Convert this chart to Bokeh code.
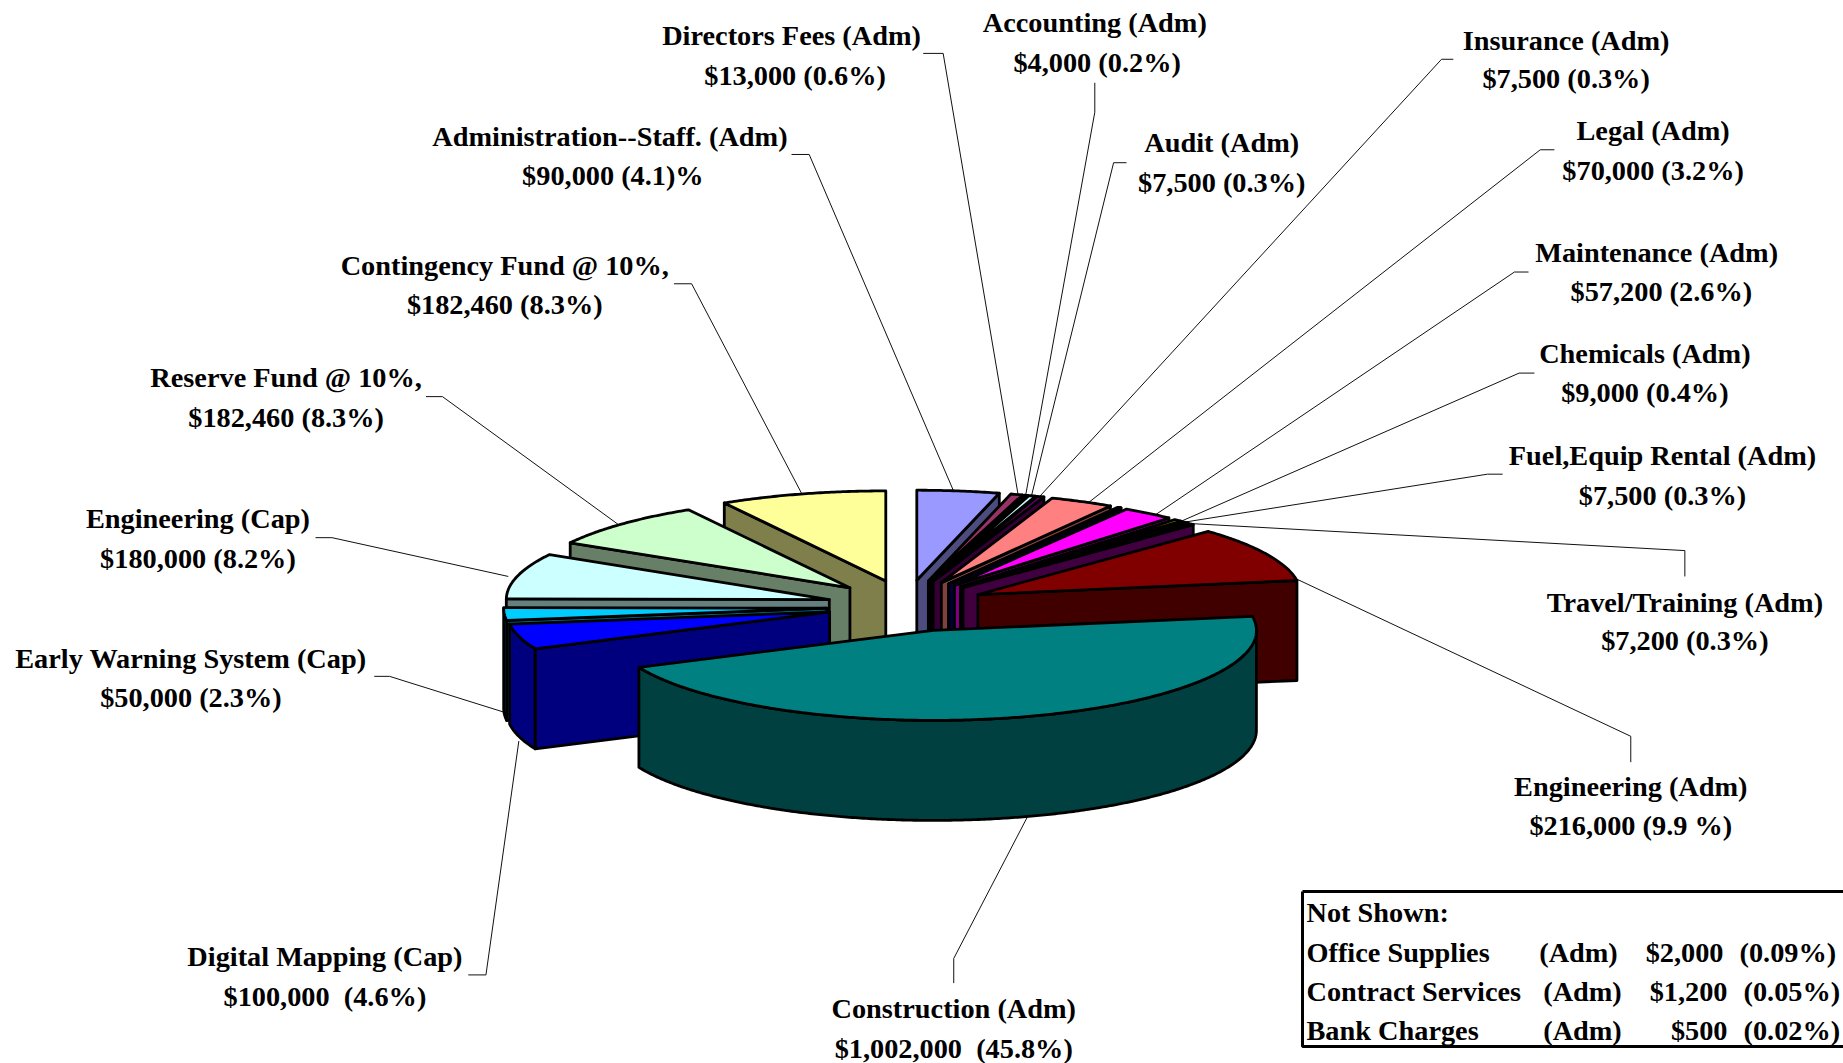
import numpy as np
from bokeh.plotting import figure
from bokeh.embed import file_html
from bokeh.resources import INLINE
from bokeh.core.properties import value

# ---- data, clockwise from twelve o'clock ----
names = ["Administration--Staff. (Adm)", "Directors Fees (Adm)", "Accounting (Adm)", "Audit (Adm)",
         "Insurance (Adm)", "Legal (Adm)", "Office Supplies (Adm)", "Contract Services (Adm)",
         "Bank Charges (Adm)", "Maintenance (Adm)", "Chemicals (Adm)", "Fuel,Equip Rental (Adm)",
         "Travel/Training (Adm)", "Engineering (Adm)", "Construction (Adm)", "Digital Mapping (Cap)",
         "Early Warning System (Cap)", "Engineering (Cap)", "Reserve Fund @ 10%,", "Contingency Fund @ 10%,"]
amounts = [90000, 13000, 4000, 7500, 7500, 70000, 2000, 1200, 500, 57200, 9000, 7500, 7200,
           216000, 1002000, 100000, 50000, 180000, 182460, 182460]
colors = ["#9999FF", "#993366", "#FFFFCC", "#CCFFFF", "#660066", "#FF8080", "#0066CC", "#CCCCFF",
          "#000080", "#FF00FF", "#FFFF00", "#00FFFF", "#800080", "#800000", "#008080", "#0000FF",
          "#00CCFF", "#CCFFFF", "#CCFFCC", "#FFFF99"]

label_line2 = ["$90,000 (4.1)%", "$13,000 (0.6%)", "$4,000 (0.2%)", "$7,500 (0.3%)", "$7,500 (0.3%)",
               "$70,000 (3.2%)", None, None, None, "$57,200 (2.6%)", "$9,000 (0.4%)", "$7,500 (0.3%)",
               "$7,200 (0.3%)", "$216,000 (9.9 %)", "$1,002,000 \u00a0(45.8%)", "$100,000 \u00a0(4.6%)",
               "$50,000 (2.3%)", "$180,000 (8.2%)", "$182,460 (8.3%)", "$182,460 (8.3%)"]

table_rows = [("Office Supplies", "(Adm)", "$2,000", "(0.09%)"),
              ("Contract Services", "(Adm)", "$1,200", "(0.05%)"),
              ("Bank Charges", "(Adm)", "$500", "(0.02%)")]

# ---- layout, in reference pixels ----
W, H = 1843, 1063
CX, CY, RX, RY, DEPTH = 906.0, 606.0, 323.0, 90.0, 100.0
EX, EY = 80.0, 26.5
NUDGE = {14: (4.0, -1.5), 15: (0.0, -2.0)}
S = 1.1754  # label positions were read on the 1568 wide view
FS = "28.3px"

label_pos = {  # name: (x line1, y line1, x line2, y line2)
    0: (518.5, 116, 521, 149), 1: (673, 30, 676, 64), 2: (931, 19, 933, 53), 3: (1039, 121, 1039, 155),
    4: (1332, 34, 1332, 67), 5: (1406, 111, 1406, 145), 9: (1409, 215, 1413, 248), 10: (1399, 301, 1399, 334),
    11: (1414, 387, 1414, 421), 12: (1433, 512, 1433, 545), 13: (1387, 669, 1387, 702),
    14: (811, 858, 811, 892), 15: (276, 814, 276, 848), 16: (162, 560, 162, 593), 17: (168, 441, 168, 475),
    18: (243, 321, 243, 355), 19: (429, 226, 429, 259),
}
leaders = {
    0: [(673, 131), (688, 131), (812, 420)], 1: [(785, 45), (802, 45), (866, 422)],
    2: [(931, 70), (931, 95), (872, 422)], 3: [(958, 138), (947, 138), (877, 422)],
    4: [(1236, 50), (1226, 50), (884, 422)], 5: [(1322, 127), (1310, 127), (922, 430)],
    9: [(1300, 231), (1288, 231), (976, 442)], 10: [(1305, 317), (1292, 317), (1000, 445)],
    11: [(1278, 403), (1265, 403), (1006, 444)], 12: [(1433, 490), (1433, 468), (1012, 445)],
    13: [(1387, 648), (1387, 626), (1098, 490)], 14: [(811, 836), (811, 815), (875, 692)],
    15: [(398, 829), (413, 829), (441, 630)], 16: [(318, 575), (331, 575), (430, 606)],
    17: [(268, 457), (282, 457), (432, 490)], 18: [(362, 337), (376, 337), (530, 449)],
    19: [(573, 241), (588, 241), (684, 424)],
}

p = figure(width=W, height=H, x_range=(0, W), y_range=(H, 0), output_backend="svg",
           toolbar_location=None, min_border=0, outline_line_color=None)
p.axis.visible = False
p.grid.visible = False
p.styles = {"position": "absolute", "left": "0px", "top": "0px"}

FONT = value("Liberation Serif")

# leader lines sit below the pie
for i, pts in leaders.items():
    p.line([a * S for a, _ in pts], [b * S for _, b in pts], line_color="#111111", line_width=1)

# ---- pie geometry from the amounts ----
total = sum(amounts)
spans = [a / total * 360 for a in amounts]
starts = 90 - np.concatenate([[0], np.cumsum(spans)[:-1]])


def darker(c):
    return "#%02X%02X%02X" % tuple(int(c[k:k + 2], 16) // 2 for k in (1, 3, 5))


def slice_faces(i):
    a0 = starts[i]
    a1 = a0 - spans[i]
    mid = np.radians((a0 + a1) / 2)
    nx, ny = NUDGE.get(i, (0.0, 0.0))
    ax, ay = CX + nx + EX * np.cos(mid), CY + ny - EY * np.sin(mid)
    t = np.radians(np.linspace(a0, a1, max(4, int(spans[i] * 2))))
    ex, ey = ax + RX * np.cos(t), ay - RY * np.sin(t)
    top = ([ax, *ex], [ay, *ey])
    faces = []
    # a cut face only shows when it turns towards the viewer
    if np.cos(np.radians(a0)) < -1e-6:
        faces.append(([ax, ex[0], ex[0], ax], [ay, ey[0], ey[0] + DEPTH, ay + DEPTH]))
    if np.cos(np.radians(a1)) > 1e-6:
        faces.append(([ax, ex[-1], ex[-1], ax], [ay, ey[-1], ey[-1] + DEPTH, ay + DEPTH]))
    # outer wall, only where the rim runs in front (lower half)
    m = np.sin(t) <= 0
    wall = None
    if m.sum() >= 2:
        wx, wy = ex[m], ey[m]
        wall = ([*wx, *wx[::-1]], [*wy, *(wy[::-1] + DEPTH)])
    return faces, wall, top


# painter's order: from the back (12 o'clock) outwards on both sides, largest slice last
n = len(amounts)
big = int(np.argmax(amounts))
order = list(range(n - 1, big, -1)) + list(range(0, big + 1))
for i in order:
    faces, wall, top = slice_faces(i)
    side = darker(colors[i])
    xs = [f[0] for f in faces]
    ys = [f[1] for f in faces]
    if wall:
        xs.append(wall[0])
        ys.append(wall[1])
    if xs:
        p.patches(xs, ys, fill_color=side, line_color="black", line_width=2.8, line_join="round")
    p.patch(top[0], top[1], fill_color=colors[i], line_color="black", line_width=2.8, line_join="round")

# ---- labels ----
tx, ty, tt = [], [], []
for i, (x1, y1, x2, y2) in label_pos.items():
    tx += [x1 * S, x2 * S]
    ty += [y1 * S - 0.3, y2 * S - 0.3]
    tt += [names[i], label_line2[i]]
p.text(tx, ty, text=tt, text_font=FONT, text_font_style="bold", text_font_size=FS,
       text_align="center", text_baseline="middle", text_color="black")

# ---- "Not shown" box ----
p.line([1302, 1860, 1860, 1302, 1302], [891, 891, 1046, 1046, 891], line_color="black", line_width=3)
row_y = [912, 952, 991, 1030]
p.text([1306], [row_y[0]], text=["Not Shown:"], text_font=FONT, text_font_style="bold", text_font_size=FS,
       text_baseline="middle")
col_adm = [1578, 1582, 1582]
col_amt = [1723, 1727, 1727]
col_pct = [1739, 1743, 1743]
for k, row in enumerate(table_rows):
    y = row_y[k + 1]
    p.text([1306], [y], text=[row[0]], text_font=FONT, text_font_style="bold", text_font_size=FS,
           text_baseline="middle")
    p.text([col_adm[k]], [y], text=[row[1]], text_font=FONT, text_font_style="bold", text_font_size=FS,
           text_baseline="middle", text_align="center")
    p.text([col_amt[k]], [y], text=[row[2]], text_font=FONT, text_font_style="bold", text_font_size=FS,
           text_baseline="middle", text_align="right")
    p.text([col_pct[k]], [y], text=[row[3]], text_font=FONT, text_font_style="bold", text_font_size=FS,
           text_baseline="middle")

open("out.html", "w").write(file_html(p, INLINE))
